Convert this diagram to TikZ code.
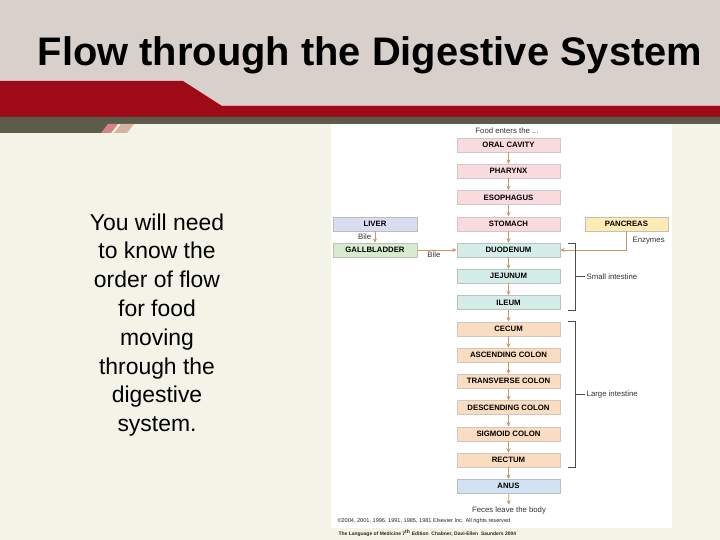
\documentclass[tikz,border=0pt]{standalone}
\usepackage{fontspec}
\setmainfont{Liberation Sans}
\usetikzlibrary{arrows.meta,positioning}
\definecolor{hdgray}{HTML}{D8D1CB}
\definecolor{hdred}{HTML}{9E0A18}
\definecolor{hdolive}{HTML}{5C5C4A}
\definecolor{hdpink}{HTML}{E2A2A2}
\definecolor{hdtan}{HTML}{D6B4A2}
\definecolor{cream}{HTML}{F4F3E8}
\definecolor{upperpink}{HTML}{F9DADF}
\definecolor{liverlilac}{HTML}{DCDCF0}
\definecolor{gallgreen}{HTML}{D8EACF}
\definecolor{pancyellow}{HTML}{FCEBB5}
\definecolor{smallteal}{HTML}{D5EDE8}
\definecolor{colonpeach}{HTML}{FADCC0}
\definecolor{anusblue}{HTML}{D2E2F2}
\definecolor{arrowtan}{HTML}{C89868}

\begin{document}
\begin{tikzpicture}[
  x=1bp, y=-1bp,
  >={Stealth[length=4.5bp,width=4bp]},
  bx/.style={rectangle, inner sep=0pt, minimum height=14bp, minimum width=103bp,
             line width=0.5pt, font=\fontsize{7.8}{8.5}\selectfont\bfseries},
  upper/.style={bx, fill=upperpink, draw=upperpink!60!black!45},
  side/.style={bx, minimum width=84bp},
  small/.style={bx, fill=smallteal, draw=smallteal!55!black!50},
  colon/.style={bx, fill=colonpeach, draw=colonpeach!60!black!45},
  flow/.style={->, line width=0.7pt, draw=arrowtan},
  brk/.style={line width=0.5pt, draw=black!70},
  lbl/.style={font=\fontsize{7.8}{9}\selectfont, text=black!80, inner sep=1.5pt},
]
\useasboundingbox (0,0) rectangle (720,540);

% ---- Slide background and header bands ----
\fill[cream] (0,0) rectangle (720,540);
\fill[hdgray] (0,0) rectangle (720,107);
\fill[hdred] (0,81) -- (183,81) -- (222,106) -- (720,106) -- (720,117) -- (0,117) -- cycle;
\draw[hdpink, line width=1pt] (222,105.5) -- (720,105.5);
\fill[hdolive] (0,117) -- (720,117) -- (720,124) -- (110,124) -- (103,133) -- (0,133) -- cycle;
\fill[hdpink!80!hdred] (101,133) -- (108,124) -- (118,124) -- (111,133) -- cycle;
\fill[hdtan] (114,133) -- (121,124) -- (134,124) -- (127,133) -- cycle;
\fill[white] (331,124) rectangle (672,528);

% ---- Title and intro text ----
\node[font=\fontsize{40}{44}\selectfont\bfseries, anchor=base] (title) at (370,66)
      {Flow through the Digestive System};
\node[align=center, font=\fontsize{23}{28.9}\selectfont] (intro) at (157,325)
      {You will need\\to know the\\order of flow\\for food\\moving\\through the\\digestive\\system.};

% ---- Main column : oral cavity -> anus ----
\node[lbl]  (food)  at (507,131)    {Food enters the ...};
\node[upper] (oral)  at (508.5,145)    {ORAL CAVITY};
\node[upper] (phar)  at (508.5,171.25) {PHARYNX};
\node[upper] (esoph) at (508.5,197.5)  {ESOPHAGUS};
\node[upper] (stom)  at (508.5,223.75) {STOMACH};
\node[small] (duo)   at (508.5,250)    {DUODENUM};
\node[small] (jej)   at (508.5,276.25) {JEJUNUM};
\node[small] (ile)   at (508.5,302.5)  {ILEUM};
\node[colon] (cec)   at (508.5,328.75) {CECUM};
\node[colon] (asc)   at (508.5,355)    {ASCENDING COLON};
\node[colon] (trans) at (508.5,381.25) {TRANSVERSE COLON};
\node[colon] (desc)  at (508.5,407.5)  {DESCENDING COLON};
\node[colon] (sig)   at (508.5,433.75) {SIGMOID COLON};
\node[colon] (rect)  at (508.5,460)    {RECTUM};
\node[bx, fill=anusblue, draw=anusblue!55!black!50] (anus) at (508.5,486.25) {ANUS};
\node[lbl]  (feces) at (509,510)    {Feces leave the body};

% ---- Accessory organs ----
\node[side, fill=liverlilac, draw=liverlilac!55!black!50] (liver) at (375,223.75) {LIVER};
\node[side, fill=gallgreen, draw=gallgreen!55!black!50]   (gall)  at (375,250)    {GALLBLADDER};
\node[side, fill=pancyellow, draw=pancyellow!55!black!50, minimum width=83bp] (panc) at (626.5,223.75) {PANCREAS};

% ---- Main flows ----
\draw[flow] (oral) -- (phar);
\draw[flow] (phar) -- (esoph);
\draw[flow] (esoph) -- (stom);
\draw[flow] (stom) -- (duo);
\draw[flow] (duo) -- (jej);
\draw[flow] (jej) -- (ile);
\draw[flow] (ile) -- (cec);
\draw[flow] (cec) -- (asc);
\draw[flow] (asc) -- (trans);
\draw[flow] (trans) -- (desc);
\draw[flow] (desc) -- (sig);
\draw[flow] (sig) -- (rect);
\draw[flow] (rect) -- (anus);
\draw[flow] (anus) -- (feces);

% ---- Bile and enzymes into the duodenum ----
\draw[flow] (liver) -- node[lbl, left, xshift=-2bp]{Bile} (gall);
\draw[flow] (gall) -- node[lbl, below, pos=0.42]{Bile} (duo);
\draw[flow] (panc.south) |- (duo.east);
\node[lbl, anchor=west] (enz) at (631,241) {Enzymes};

% ---- Brackets : small and large intestine ----
\draw[brk] ([xshift=8bp]duo.north east) -| ([xshift=15bp]ile.south east) -- ([xshift=8bp]ile.south east);
\draw[brk] ([xshift=8bp]cec.north east) -| ([xshift=15bp]rect.south east) -- ([xshift=8bp]rect.south east);
\node[lbl, anchor=west] (smallint) at (585,276.25) {Small intestine};
\node[lbl, anchor=west] (largeint) at (585,394) {Large intestine};
\draw[brk] ([xshift=15bp]jej.east) -- (smallint.west);
\coordinate (lgtick) at (575,394);
\draw[brk] (lgtick) -- (largeint.west);

% ---- Source lines ----
\node[font=\fontsize{5.6}{6}\selectfont, anchor=west, text=black!85] (copy) at (334,521)
      {\textcopyright 2004, 2001, 1996, 1991, 1985, 1981 Elsevier Inc. All rights reserved};
\node[font=\fontsize{5}{6}\selectfont\bfseries, anchor=west, text=black!85] (book) at (335,533)
      {The Language of Medicine 7\textsuperscript{th} Edition\ \ Chabner, Davi-Ellen\ \ Saunders 2004};
\end{tikzpicture}
\end{document}
